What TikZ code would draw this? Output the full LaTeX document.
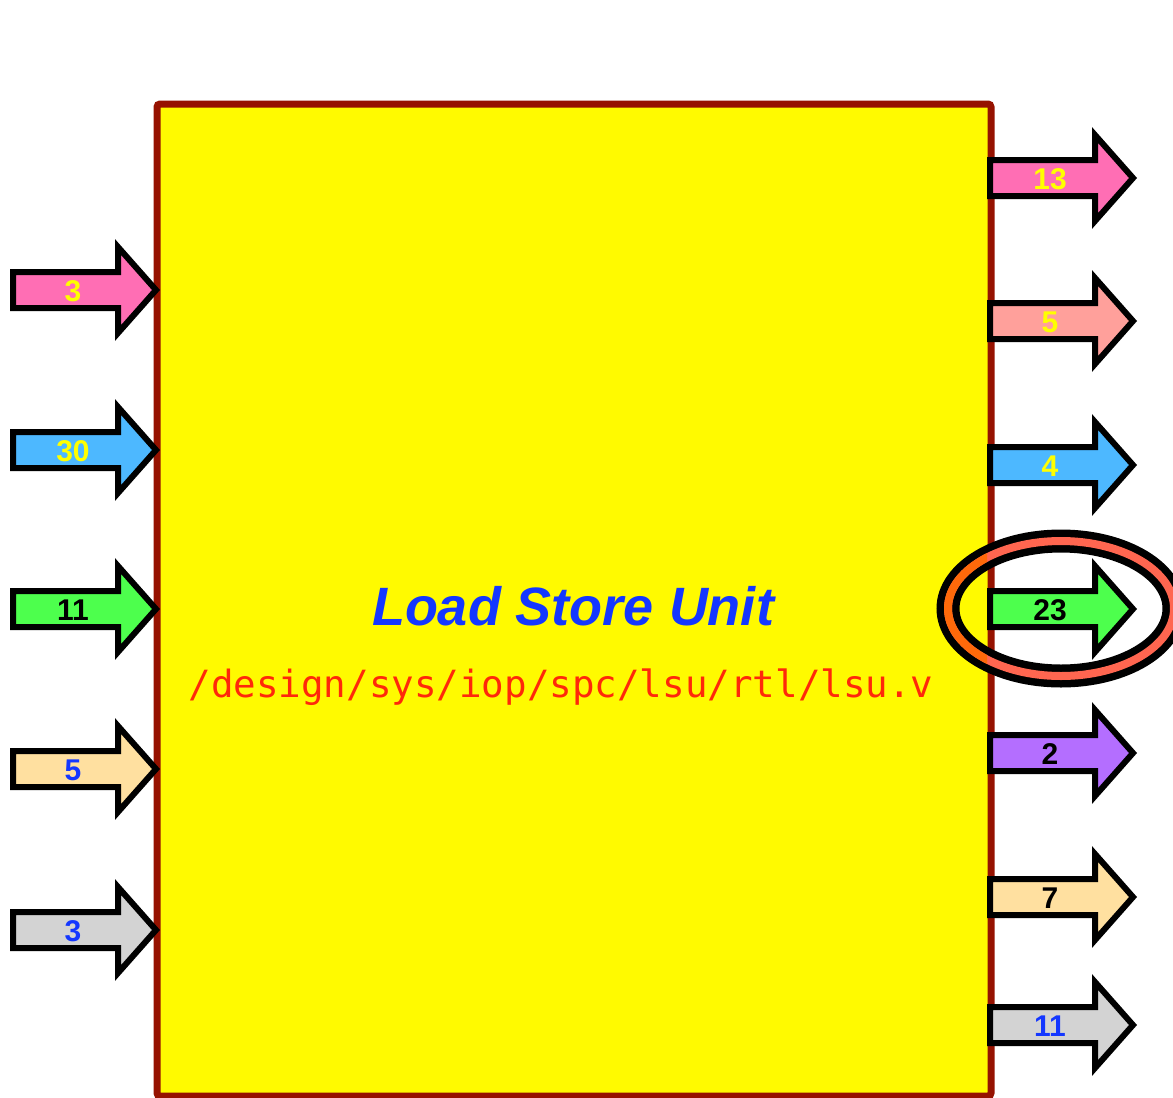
\documentclass[tikz,border=0pt]{standalone}
\usepackage{fontspec}
\setmainfont{Liberation Sans}
\newfontfamily\monofam{DejaVu Sans Mono}
\begin{document}
\begin{tikzpicture}[x=1pt,y=-1pt,
  boxstyle/.style={draw=boxred,line width=7pt,fill=boxyellow,rounded corners=3pt},
  arrowline/.style={draw=black,line width=6pt,line join=miter,miter limit=10},
  siglabel/.style={font=\bfseries\fontsize{30}{30}\selectfont,anchor=base,inner sep=0pt},
  titlestyle/.style={font=\bfseries\itshape\fontsize{54}{54}\selectfont,text=titleblue,anchor=base,inner sep=0pt},
  pathstyle/.style={font=\monofam\fontsize{37.5}{37.5}\selectfont,text=pathred,anchor=base,inner sep=0pt}]
\definecolor{boxred}{RGB}{150,18,0}
\definecolor{boxyellow}{RGB}{255,250,0}
\definecolor{titleblue}{RGB}{20,55,255}
\definecolor{pathred}{RGB}{255,40,10}
\definecolor{cpink}{RGB}{255,110,180}
\definecolor{csalmon}{RGB}{255,160,155}
\definecolor{cblue}{RGB}{77,184,255}
\definecolor{cgreen}{RGB}{77,255,77}
\definecolor{cpurple}{RGB}{180,110,255}
\definecolor{cwheat}{RGB}{255,224,160}
\definecolor{cgrey}{RGB}{211,211,211}
\definecolor{lblyellow}{RGB}{255,255,0}
\definecolor{lblblue}{RGB}{20,55,255}
\definecolor{ringtomato}{RGB}{255,102,80}
\definecolor{ringorange}{RGB}{255,105,10}
\useasboundingbox (0,0) rectangle (1173,1098);
\fill[white] (0,0) rectangle (1173,1098);
% box
\path[boxstyle] (157,104) rectangle (991,1096);
\node[titlestyle] (title) at (573,625) {Load Store Unit};
\node[pathstyle] (path) at (561,697) {/design/sys/iop/spc/lsu/rtl/lsu.v};
% arrow macro: #1 name, #2 left x, #3 centre y, #4 fill, #5 label colour, #6 label, #7 fill opacity
\newcommand\sigarrow[7]{%
  \path[arrowline,fill=#4,fill opacity=#7]
    (#2,#3-18) -- (#2+105,#3-18) -- (#2+105,#3-43) -- (#2+143,#3)
    -- (#2+105,#3+43) -- (#2+105,#3+18) -- (#2,#3+18) -- cycle;
  \node[siglabel,text=#5] (#1) at (#2+60,#3+11) {#6};
}
% inputs
\sigarrow{in1}{13}{290}{cpink}{lblyellow}{3}{1}
\sigarrow{in2}{13}{450}{cblue}{lblyellow}{30}{1}
\sigarrow{in3}{13}{609}{cgreen}{black}{11}{1}
\sigarrow{in4}{13}{769}{cwheat}{lblblue}{5}{1}
\sigarrow{in5}{13}{930}{cgrey}{lblblue}{3}{1}
% outputs
\sigarrow{out1}{990}{178}{cpink}{lblyellow}{13}{1}
\sigarrow{out2}{990}{321}{csalmon}{lblyellow}{5}{1}
\sigarrow{out3}{990}{465}{cblue}{lblyellow}{4}{1}
\sigarrow{out4}{990}{609}{cgreen}{black}{23}{1}
\sigarrow{out5}{990}{753}{cpurple}{black}{2}{1}
\sigarrow{out6}{990}{897}{cwheat}{black}{7}{1}
\sigarrow{out7}{990}{1025}{cgrey}{lblblue}{11}{1}
% highlight ring
\coordinate (ringc) at (1061,608.5);
\draw[black,line width=23pt] (ringc) ellipse [x radius=113, y radius=67.5];
\draw[ringtomato,line width=8pt] (ringc) ellipse [x radius=113, y radius=67.5];
\begin{scope}
  \clip (900,500) rectangle (987,720);
  \draw[ringorange,line width=8pt] (ringc) ellipse [x radius=113, y radius=67.5];
\end{scope}
\end{tikzpicture}
\end{document}
